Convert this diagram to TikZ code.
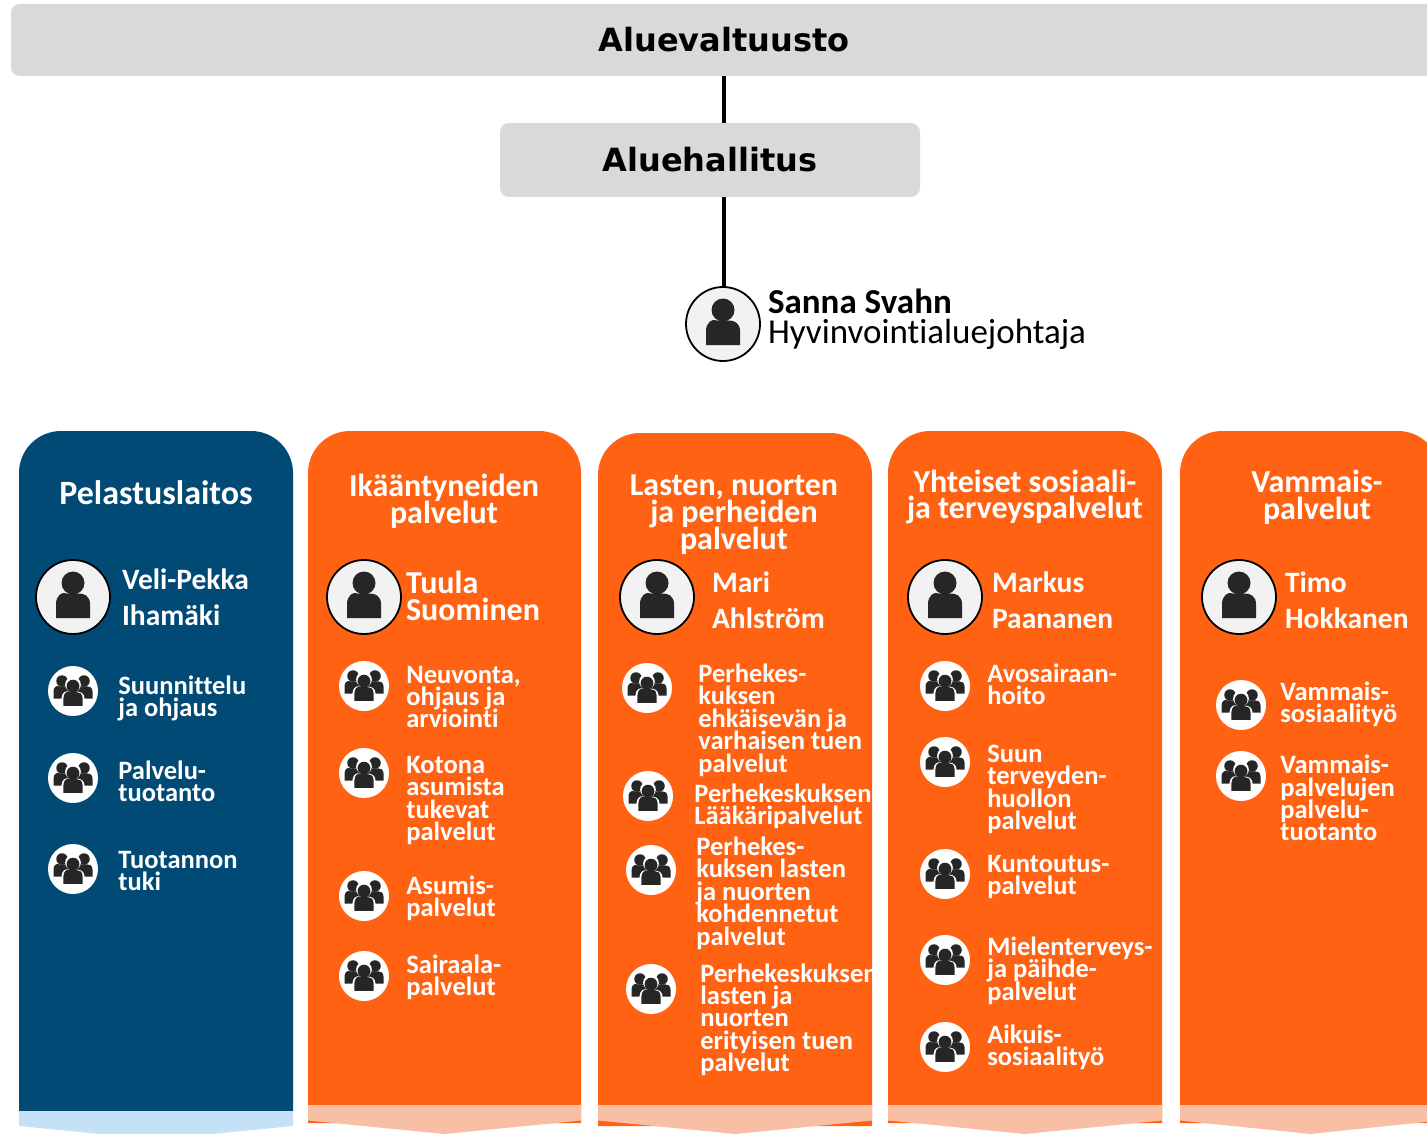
\documentclass[tikz,border=0pt]{standalone}
\usepackage{fontspec}
\setmainfont{Carlito}[Ligatures=CommonOff]
\newfontfamily\boxfont{DejaVu Sans}
\usetikzlibrary{positioning,calc}
\lineskiplimit=-30pt

\definecolor{navy}{HTML}{004A75}
\definecolor{navylight}{HTML}{C5E1F5}
\definecolor{oranssi}{HTML}{FF6213}
\definecolor{oranssilight}{HTML}{F9BFA5}
\definecolor{boxgray}{HTML}{D9D9D9}
\definecolor{icondark}{HTML}{262626}

% one figure: colour, size, dx, dy from the middle of the path picture
\newcommand{\figureshape}[4]{
  \fill[#1] ($(path picture bounding box.center)+({#3},{#4+#2*(-14)})$) circle ({#2*11.5});
  \fill[#1] ($(path picture bounding box.center)+({#3-#2*17},{#4+#2*21})$)
    -- ++(0,{#2*(-14)}) .. controls +(0,{#2*(-8)}) and +({#2*(-5)},{#2*(-2.5)}) .. ++({#2*11},{#2*(-10.5)})
    -- ++({#2*12},0) .. controls +({#2*5},0) and +(0,{#2*(-8)}) .. ++({#2*11},{#2*10.5})
    -- ++(0,{#2*14}) -- cycle;
}
% panel: colours, left, right, top, start of light band, band side end, bottom
\newcommand{\panelshape}[8]{
  \fill[#1] (#3,#8) [rounded corners=42pt] -- (#3,#5) -- (#4,#5) [sharp corners] -- (#4,#8) -- cycle;
  \fill[#2] (#3,#6) -- (#4,#6) -- (#4,#7) -- ({(#3+#4)/2},#7+13.5) -- (#3,#7) -- cycle;
}

\tikzset{
  topbox/.style={fill=boxgray, rounded corners=9pt, inner sep=0pt, text=black,
    font=\boxfont\bfseries\fontsize{32}{36}\selectfont},
  link/.style={line width=4pt, black},
  leader/.style={circle, draw=black, line width=1.8pt, fill=black!5, inner sep=0pt, minimum size=74pt,
    path picture={\figureshape{icondark}{1}{0}{0}}},
  team/.style={circle, fill=white, inner sep=0pt, minimum size=50pt,
    path picture={
      \figureshape{icondark}{.5}{-11}{-3}
      \figureshape{icondark}{.5}{11}{-3}
      \figureshape{white}{.68}{0}{3}
      \figureshape{icondark}{.56}{0}{3}
    }},
  paneltitle/.style={align=center, inner sep=0pt, text=white,
    font=\bfseries\fontsize{32}{26.8}\selectfont},
  headname/.style={align=left, inner sep=0pt, text=white,
    font=\bfseries\fontsize{29.5}{36}\selectfont},
  teamtext/.style={align=left, inner sep=0pt, text=white,
    font=\bfseries\fontsize{26.5}{22.4}\selectfont},
}

\begin{document}
\begin{tikzpicture}[x=1pt, y=-1pt]
  \clip[use as bounding box] (0,0) rectangle (1427,1134);

  % panels
  \panelshape{navy}{navylight}{19}{293}{431}{1111}{1126}{1111}
  \panelshape{oranssi}{oranssilight}{308}{581}{431}{1105}{1120.5}{1123}
  \panelshape{oranssi}{oranssilight}{598}{872}{433}{1105}{1120.5}{1126}
  \panelshape{oranssi}{oranssilight}{888}{1162}{431}{1105}{1120.5}{1123}
  \panelshape{oranssi}{oranssilight}{1180}{1440}{431}{1105}{1120.5}{1123}

  % top of the organisation
  \node[topbox, minimum width=1426pt, minimum height=72pt] (valtuusto) at (724,40) {Aluevaltuusto};
  \node[topbox, minimum width=420pt, minimum height=74pt] (hallitus) at (710,160) {Aluehallitus};
  \node[leader] (johtaja) at (723,324) {};
  \node[right=7pt of johtaja, yshift=5pt, align=left, inner sep=0pt, font=\fontsize{35}{30}\selectfont] (johtajaname)
    {\textbf{Sanna Svahn}\\Hyvinvointialuejohtaja};
  \draw[link] (valtuusto.south) -- (valtuusto.south |- hallitus.north);
  \draw[link] (valtuusto.south |- hallitus.south) -- (valtuusto.south |- johtaja.north);

  % Pelastuslaitos
  \node[paneltitle, font=\bfseries\fontsize{34}{27}\selectfont] (title1) at (156,493) {Pelastuslaitos};
  \node[leader] (head1) at (73,597) {};
  \node[headname, right=11pt of head1] (name1) {Veli-Pekka\\Ihamäki};
  \node[team] (team11) at (73,691) {};
  \node[team] (team12) at (73,778) {};
  \node[team] (team13) at (73,869) {};
  \node[teamtext, right=20pt of team11, yshift=-7.5pt] (text11) {Suunnittelu\\ja ohjaus};
  \node[teamtext, right=20pt of team12, yshift=-3pt] (text12) {Palvelu-\\tuotanto};
  \node[teamtext, right=20pt of team13, yshift=-2pt] (text13) {Tuotannon\\tuki};

  % Ikääntyneiden palvelut
  \node[paneltitle] (title2) at (444,501) {Ikääntyneiden\\palvelut};
  \node[leader] (head2) at (364,597) {};
  \node[headname, right=4pt of head2, yshift=1.5pt, font=\bfseries\fontsize{32}{27}\selectfont] (name2) {Tuula\\Suominen};
  \node[team] (team21) at (364,686) {};
  \node[team] (team22) at (364,773) {};
  \node[team] (team23) at (364,896) {};
  \node[team] (team24) at (364,976) {};
  \node[teamtext, right=17pt of team21, yshift=-11pt] (text21) {Neuvonta,\\ohjaus ja\\arviointi};
  \node[teamtext, right=17pt of team22, yshift=-27.5pt] (text22) {Kotona\\asumista\\tukevat\\palvelut};
  \node[teamtext, right=17pt of team23, yshift=-2.5pt] (text23) {Asumis-\\palvelut};
  \node[teamtext, right=17pt of team24, yshift=-1pt] (text24) {Sairaala-\\palvelut};

  % Lasten, nuorten ja perheiden palvelut
  \node[paneltitle] (title3) at (734,514.5) {Lasten, nuorten\\ja perheiden\\palvelut};
  \node[leader] (head3) at (657,597) {};
  \node[headname, right=17pt of head3, yshift=-3pt] (name3) {Mari\\Ahlström};
  \node[team] (team31) at (647,688) {};
  \node[team] (team32) at (648,796) {};
  \node[team] (team33) at (651,870) {};
  \node[team] (team34) at (651,989) {};
  \node[teamtext, right=26pt of team31, yshift=-32pt] (text31) {Perhekes-\\kuksen\\ehkäisevän ja\\varhaisen tuen\\palvelut};
  \node[teamtext, right=21pt of team32, yshift=-10.5pt] (text32) {Perhekeskuksen\\Lääkäripalvelut};
  \node[teamtext, right=20pt of team33, yshift=-23pt] (text33) {Perhekes-\\kuksen lasten\\ja nuorten\\kohdennetut\\palvelut};
  \node[teamtext, right=24pt of team34, yshift=-30.6pt] (text34) {Perhekeskuksen\\lasten ja\\nuorten\\erityisen tuen\\palvelut};

  % Yhteiset sosiaali- ja terveyspalvelut
  \node[paneltitle] (title4) at (1025,497) {Yhteiset sosiaali-\\ja terveyspalvelut};
  \node[leader] (head4) at (945,597) {};
  \node[headname, right=9pt of head4, yshift=-3pt] (name4) {Markus\\Paananen};
  \node[team] (team41) at (945,686) {};
  \node[team] (team42) at (945,762) {};
  \node[team] (team43) at (945,874) {};
  \node[team] (team44) at (945,960) {};
  \node[team] (team45) at (945,1047) {};
  \node[teamtext, right=17pt of team41, yshift=1.5pt] (text41) {Avosairaan-\\hoito};
  \node[teamtext, right=17pt of team42, yshift=-27.5pt] (text42) {Suun\\terveyden-\\huollon\\palvelut};
  \node[teamtext, right=17pt of team43, yshift=-3pt] (text43) {Kuntoutus-\\palvelut};
  \node[teamtext, right=17pt of team44, yshift=-10.5pt] (text44) {Mielenterveys-\\ja päihde-\\palvelut};
  \node[teamtext, right=17pt of team45, yshift=-.5pt] (text45) {Aikuis-\\sosiaalityö};

  % Vammaispalvelut
  \node[paneltitle] (title5) at (1317,497) {Vammais-\\palvelut};
  \node[leader] (head5) at (1239,597) {};
  \node[headname, right=8pt of head5, yshift=-3pt] (name5) {Timo\\Hokkanen};
  \node[team] (team51) at (1241,705) {};
  \node[team] (team52) at (1241,776) {};
  \node[teamtext, right=14pt of team51, yshift=1pt] (text51) {Vammais-\\sosiaalityö};
  \node[teamtext, right=14pt of team52, yshift=-22pt] (text52) {Vammais-\\palvelujen\\palvelu-\\tuotanto};
\end{tikzpicture}
\end{document}
